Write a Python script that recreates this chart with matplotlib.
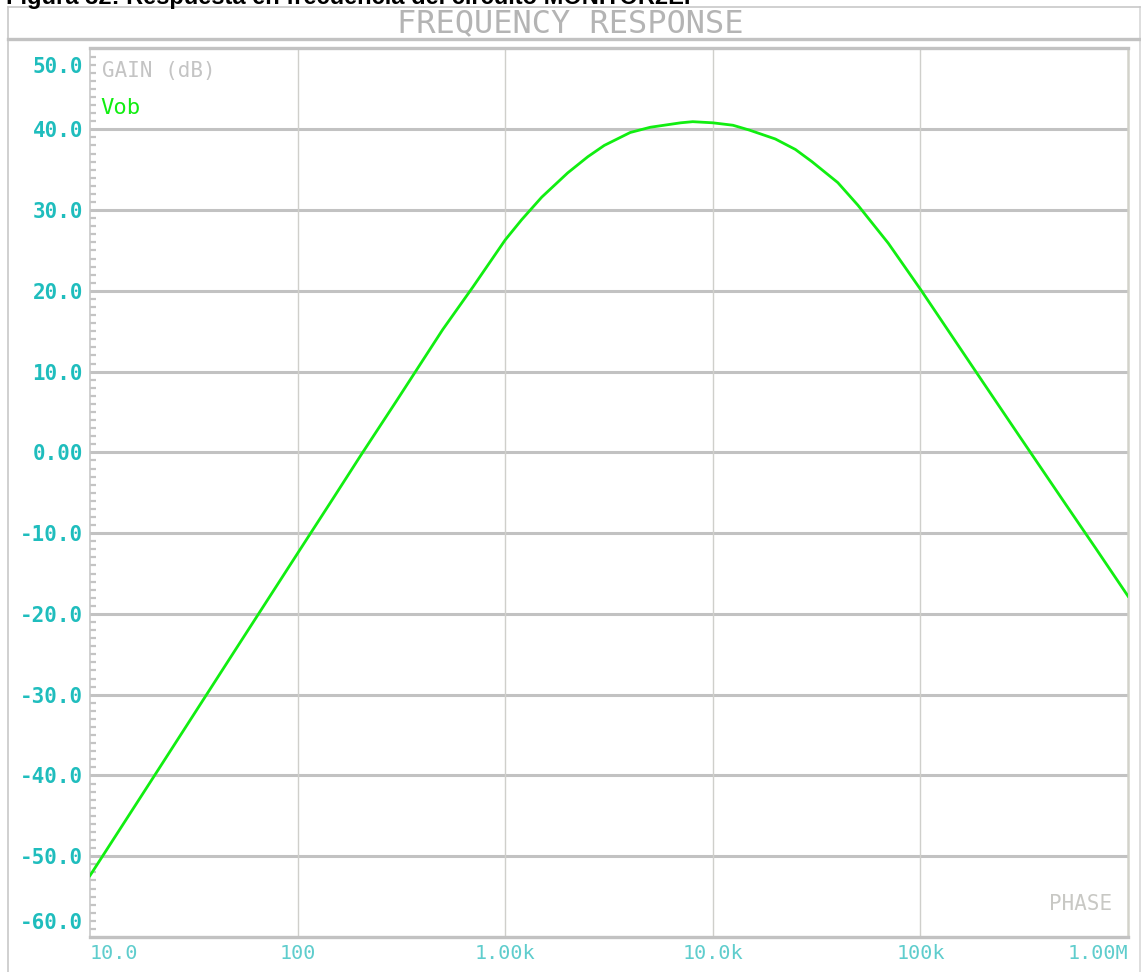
import numpy as np
import matplotlib
matplotlib.use("Agg")
import matplotlib.pyplot as plt
from matplotlib.lines import Line2D
from matplotlib.transforms import ScaledTranslation

# datos (PSpice)
freq = [10, 20, 50, 100, 150, 200, 300, 500, 700, 1000, 1200, 1500, 2000,
        2500, 3000, 4000, 5000, 7000, 8000, 10000, 12500, 15000, 20000, 25000,
        30000, 40000, 50000, 70000, 100000, 200000, 300000, 500000, 700000, 1000000]
gain_db = [-52.4, -40.4, -24.5, -12.5, -5.5, -0.5, 6.4, 15.2, 20.5, 26.3,
           28.8, 31.6, 34.6, 36.6, 38.0, 39.6, 40.25, 40.8, 40.94, 40.8, 40.5,
           39.9, 38.8, 37.5, 36.0, 33.4, 30.6, 25.9, 20.2, 8.7, 2.0, -6.4, -11.9, -17.8]

y_ticks = [50, 40, 30, 20, 10, 0, -10, -20, -30, -40, -50, -60]
y_labels = ["50.0", "40.0", "30.0", "20.0", "10.0", "0.00", "-10.0", "-20.0",
            "-30.0", "-40.0", "-50.0", "-60.0"]
x_ticks = [10, 100, 1000, 10000, 100000, 1000000]
x_labels = ["10.0", "100", "1.00k", "10.0k", "100k", "1.00M"]

W, H = 1141, 972
fig = plt.figure(figsize=(W / 100, H / 100), dpi=100)
fig.patch.set_facecolor("white")

def fx(px):
    return px / W

def fy(py):
    return 1 - py / H

ax = fig.add_axes([fx(90), fy(937), fx(1128) - fx(90), fy(48.5) - fy(937)])
ax.set_xscale("log")
ax.set_xlim(10, 1e6)
ax.set_ylim(-60, 50)

ax.plot(freq, gain_db, color="#11EE11", lw=2.0, solid_joinstyle="miter", zorder=5)

# rejilla
ax.set_yticks(y_ticks)
ax.set_yticklabels(y_labels)
ax.set_xticks(x_ticks)
ax.set_xticklabels(x_labels)
ax.set_yticks(np.arange(-60, 51, 1), minor=True)
ax.xaxis.set_minor_locator(matplotlib.ticker.NullLocator())
for t in y_ticks[1:-1]:
    ax.axhline(t, color="#C2C2C2", lw=2.2, zorder=1)
for t in x_ticks[1:-1]:
    ax.axvline(t, color="#CFCFCB", lw=1.0, zorder=1)

ax.tick_params(axis="y", which="major", length=0, pad=5)
ax.tick_params(axis="y", which="minor", direction="in", length=4.5, width=1.6,
               color="#C4C4C4")
ax.tick_params(axis="x", which="major", length=0, pad=5)

for lab in ax.get_yticklabels():
    lab.set_fontfamily("DejaVu Sans Mono")
    lab.set_fontweight("bold")
    lab.set_fontsize(15)
    lab.set_color("#1FBDBD")
for lab in ax.get_xticklabels():
    lab.set_fontfamily("DejaVu Sans Mono")
    lab.set_fontsize(14.5)
    lab.set_color("#5FCDCD")

# etiquetas de los extremos desplazadas hacia dentro
ylabs = ax.get_yticklabels()
ylabs[0].set_transform(ylabs[0].get_transform() + ScaledTranslation(0, -0.165, fig.dpi_scale_trans))
ylabs[-1].set_transform(ylabs[-1].get_transform() + ScaledTranslation(0, 0.165, fig.dpi_scale_trans))
xlabs = ax.get_xticklabels()
xlabs[0].set_horizontalalignment("left")
xlabs[-1].set_horizontalalignment("right")

ax.spines["top"].set_color("#C2C2C2")
ax.spines["top"].set_linewidth(2.4)
ax.spines["bottom"].set_color("#C2C2C2")
ax.spines["bottom"].set_linewidth(2.4)
ax.spines["left"].set_color("#C8C8C8")
ax.spines["left"].set_linewidth(1.2)
ax.spines["right"].set_color("#D2D2CA")
ax.spines["right"].set_linewidth(1.8)

ax.text(0.012, 0.986, "GAIN (dB)", transform=ax.transAxes, ha="left", va="top",
        fontfamily="DejaVu Sans Mono", fontsize=15, color="#C4C4C4")
ax.text(0.01, 0.944, "Vob", transform=ax.transAxes, ha="left", va="top",
        fontfamily="DejaVu Sans Mono", fontsize=16, color="#11EE11")
ax.text(0.985, 0.037, "PHASE", transform=ax.transAxes, ha="right", va="center",
        fontfamily="DejaVu Sans Mono", fontsize=15, color="#C8C8C4")

# marco exterior y cabecera
fig.add_artist(Line2D([fx(8), fx(8)], [fy(7), fy(972)], color="#C8C8C8", lw=1.2))
fig.add_artist(Line2D([fx(1140), fx(1140)], [fy(7), fy(972)], color="#D8D8D8", lw=1.2))
fig.add_artist(Line2D([fx(8), fx(1140)], [fy(7), fy(7)], color="#C8C8C8", lw=1.2))
fig.add_artist(Line2D([fx(8), fx(1140)], [fy(39.5), fy(39.5)], color="#C2C2C2", lw=2.4))
fig.text(fx(570), fy(24), "FREQUENCY RESPONSE", ha="center", va="center",
         fontfamily="DejaVu Sans Mono", fontsize=23, color="#B4B4B4")

fig.text(fx(6), fy(4), "Figura 32: Respuesta en frecuencia del circuito MONITOR2E.",
         ha="left", va="baseline", fontfamily="Liberation Sans", fontweight="bold",
         fontsize=17, color="black")

fig.savefig("out.png", dpi=100)
